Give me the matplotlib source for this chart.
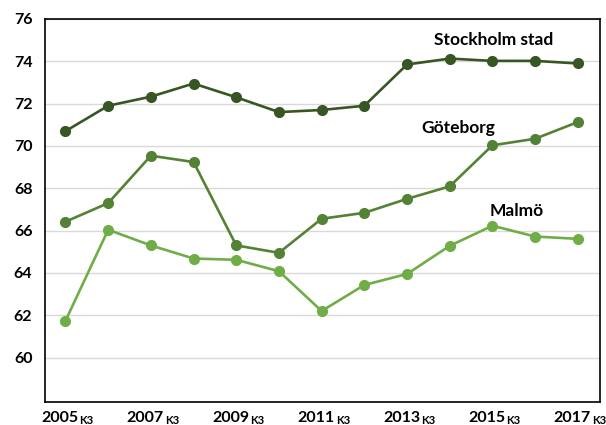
import matplotlib
matplotlib.use("Agg")
import matplotlib.pyplot as plt
from matplotlib.transforms import blended_transform_factory, ScaledTranslation

years = list(range(2005, 2018))
stockholm = [70.7, 71.9, 72.33, 72.95, 72.3, 71.6, 71.7, 71.9, 73.85, 74.13, 74.02, 74.02, 73.9]
goteborg = [66.42, 67.3, 69.54, 69.24, 65.3, 64.95, 66.56, 66.84, 67.5, 68.09, 70.03, 70.34, 71.13]
malmo = [61.74, 66.04, 65.3, 64.68, 64.62, 64.08, 62.2, 63.43, 63.95, 65.28, 66.23, 65.72, 65.61]
series_names = ["Stockholm stad", "Göteborg", "Malmö"]
yticks = [60, 62, 64, 66, 68, 70, 72, 74, 76]
quarter = "K3"

plt.rcParams['font.family'] = ['Lato', 'DejaVu Sans']

fig = plt.figure(figsize=(6.06, 4.25), dpi=100)
ax = fig.add_axes([45/606, 1-402/425, 555/606, 383/425])

x = list(range(len(years)))
colors = ["#375623", "#548235", "#70AD47"]
for vals, c in zip([stockholm, goteborg, malmo], colors):
    ax.plot(x, vals, color=c, lw=1.9, marker='o', ms=7, zorder=3)

ax.set_xlim(-0.48, 12.52)
ax.set_ylim(57.9, 76)
ax.set_yticks(yticks)
ax.set_yticklabels([str(v) for v in yticks], fontsize=11.5, fontweight='bold')
ax.yaxis.grid(True, color='#D9D9D9', lw=1)
ax.set_axisbelow(True)
ax.tick_params(axis='y', length=0, pad=9)
ax.set_xticks(x[::2])
ax.set_xticklabels([])
ax.tick_params(axis='x', length=0)
for s in ax.spines.values():
    s.set_color('black')
    s.set_linewidth(1.2)

base = blended_transform_factory(ax.transData, fig.transFigure)
for xi, yr in zip(x[::2], years[::2]):
    t1 = base + ScaledTranslation(13/100, 0, fig.dpi_scale_trans)
    ax.text(xi, 3.5/425, str(yr), transform=t1, ha='right', va='baseline',
            fontsize=11.5, fontweight='bold', clip_on=False)
    t2 = base + ScaledTranslation(14/100, 0, fig.dpi_scale_trans)
    ax.text(xi, 1.0/425, quarter, transform=t2, ha='left', va='baseline',
            fontsize=8, fontweight='bold', clip_on=False)

label_pos = [(10.02, 75.0), (9.2, 70.87), (10.56, 66.94)]
for name, (lx, ly) in zip(series_names, label_pos):
    ax.text(lx, ly, name, ha='center', va='center', fontsize=12.5, fontweight='bold', color='black')

fig.savefig("out.png", dpi=100)
